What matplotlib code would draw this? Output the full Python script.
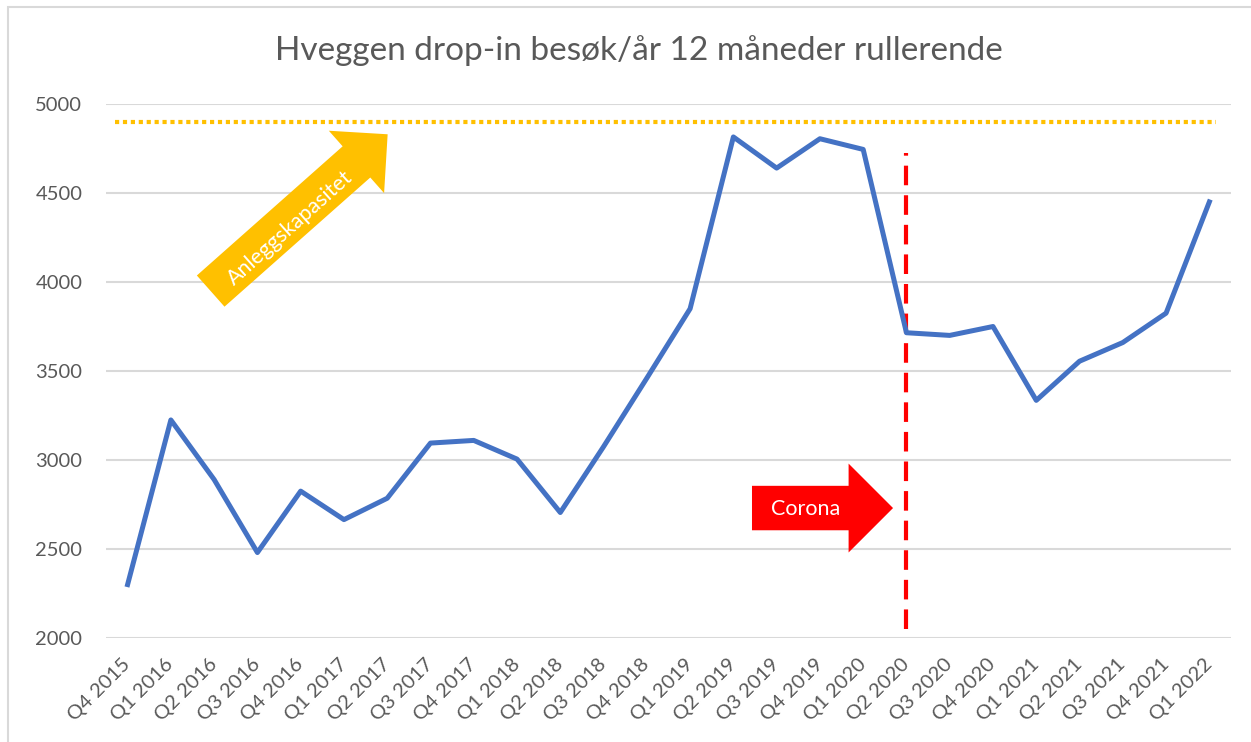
import matplotlib
matplotlib.use("Agg")
from matplotlib import pyplot as plt
from matplotlib.patches import Rectangle

plt.rcParams['font.family'] = ['Lato', 'DejaVu Sans']

quarters = ["Q4 2015", "Q1 2016", "Q2 2016", "Q3 2016", "Q4 2016", "Q1 2017",
            "Q2 2017", "Q3 2017", "Q4 2017", "Q1 2018", "Q2 2018", "Q3 2018",
            "Q4 2018", "Q1 2019", "Q2 2019", "Q3 2019", "Q4 2019", "Q1 2020",
            "Q2 2020", "Q3 2020", "Q4 2020", "Q1 2021", "Q2 2021", "Q3 2021",
            "Q4 2021", "Q1 2022"]
visits = [2300, 3225, 2890, 2480, 2825, 2665, 2785, 3095, 3110, 3005, 2705, 3075,
          3460, 3850, 4815, 4640, 4805, 4745, 3715, 3700, 3750, 3335, 3555, 3660,
          3825, 4450]
capacity = 4900
corona_idx = quarters.index("Q2 2020")

grey = "#595959"
xs = list(range(len(quarters)))

fig = plt.figure(figsize=(12.51, 7.42), dpi=100)
ax = fig.add_axes([0.0847, 0.1402, 0.8993, 0.7196])

# chart border
fig.patches.append(Rectangle((8 / 1251, -0.01), 1.0, 1 - 7 / 742 + 0.01,
                             transform=fig.transFigure, fill=False,
                             edgecolor="#D9D9D9", linewidth=1.5))

ax.set_xlim(-0.5, len(quarters) - 0.5)
ax.set_ylim(2000, 5000)
ax.set_yticks(range(2000, 5001, 500))
ax.set_xticks(xs)
ax.set_xticklabels(quarters, rotation=45, ha="right", va="center",
                   rotation_mode="anchor")
ax.tick_params(axis="x", length=0, pad=17, labelsize=14.5, labelcolor=grey)
ax.tick_params(axis="y", length=0, pad=17, labelsize=14.5, labelcolor=grey)
ax.grid(axis="y", color="#D9D9D9", linewidth=1.5)
ax.set_axisbelow(True)
for s in ax.spines.values():
    s.set_visible(False)

# capacity line
ax.plot([-0.3, len(quarters) - 0.85], [capacity, capacity], color="#FFC000",
        linewidth=3, dashes=(1, 0.9))

# corona line
ax.plot([corona_idx, corona_idx], [2050, 4725], color="#FF0000", linewidth=3,
        dashes=(4.7, 2.4))

ax.plot(xs, visits, color="#4472C4", linewidth=3.6, solid_joinstyle="round")

# arrows
ax.annotate("", xy=(6.01, 4830), xytext=(1.92, 3949),
            arrowprops=dict(arrowstyle="simple,head_length=1,head_width=2,tail_width=1",
                            mutation_scale=30, color="#FFC000", shrinkA=0, shrinkB=0,
                            linewidth=0))
ax.text(3.75, 4303, "Anleggskapasitet", color="white", fontsize=15.5,
        rotation=41.8, rotation_mode="anchor", ha="center", va="center")

ax.annotate("", xy=(17.69, 2730), xytext=(14.43, 2730),
            arrowprops=dict(arrowstyle="simple,head_length=1,head_width=2,tail_width=1",
                            mutation_scale=32, color="#FF0000", shrinkA=0, shrinkB=0,
                            linewidth=0))
ax.text(15.66, 2722, "Corona", color="white", fontsize=15.5, ha="center", va="center")

fig.text(0.511, 0.932, "Hveggen drop-in besøk/år 12 måneder rullerende",
         ha="center", va="center", fontsize=24, color=grey)

fig.savefig("out.png", dpi=100)
